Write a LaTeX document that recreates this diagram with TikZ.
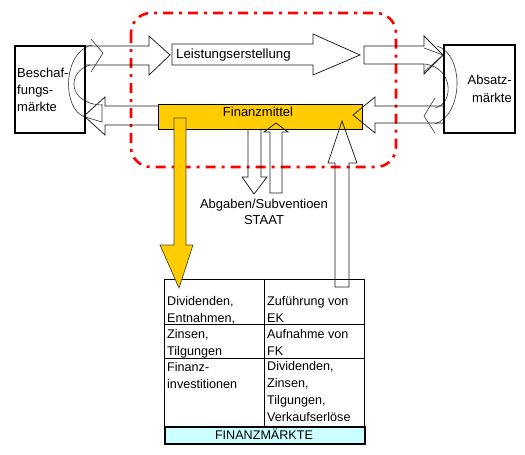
\documentclass[tikz,border=0pt]{standalone}
\usepackage{fontspec}
\setmainfont{Liberation Sans}
\definecolor{gold}{HTML}{FFCC00}
\definecolor{lcyan}{HTML}{CCFFFF}
\definecolor{redframe}{HTML}{FF0000}
\begin{document}
\begin{tikzpicture}[x=1pt,y=-1pt,
  outl/.style={draw=black!90, line width=0.75pt},
  curv/.style={draw=black!80, line width=0.6pt},
  mkt/.style={draw=black, line width=2pt, fill=none},
  txt/.style={font=\fontsize{13}{17}\selectfont, inner sep=0pt},
  ctxt/.style={font=\fontsize{12.6}{16.6}\selectfont, inner sep=0pt, align=left, anchor=north west},
  grid/.style={draw=black, line width=0.8pt}]
\useasboundingbox (0,0) rectangle (525,455);

% dash-dot frame
\draw[redframe, line width=2.6pt, dash pattern=on 10pt off 6pt on 3pt off 6pt,
      rounded corners=20pt] (131,13) rectangle (396,167);

% block arrows (outlined, unfilled)
\draw[outl] (84,46) -- (149,46) -- (149,36) -- (170,55) -- (149,75) -- (149,65) -- (84,65);
\draw[outl] (172,44) -- (313,44) -- (313,34) -- (360,55) -- (313,75) -- (313,65) -- (172,65) -- cycle;
\draw[outl] (364,46) -- (424,46) -- (424,36) -- (443,55) -- (424,74) -- (424,64) -- (364,64) -- cycle;
\draw[outl] (158,106) -- (105,106) -- (105,97) -- (84,116) -- (105,135) -- (105,125) -- (158,125);

% Finanzmittel box
\node[draw=black, line width=0.8pt, fill=gold, minimum width=204pt, minimum height=25pt,
      inner sep=0pt, anchor=north west] (fm) at (158,104) {};
\node[txt, anchor=base] (fmt) at (258,116.7) {Finanzmittel};

% arrows touching Finanzmittel
\draw[outl] (443,106) -- (375,106) -- (375,97) -- (353,115) -- (375,133) -- (375,123) -- (443,123);
\draw[outl] (248,129) -- (248,177) -- (242,177) -- (254,194) -- (267,177) -- (261,177) -- (261,129);
\draw[outl] (270,193) -- (270,132) -- (264,132) -- (276,123) -- (288,132) -- (282,132) -- (282,193) -- cycle;

% table
\draw[grid] (164,279) rectangle (364,426);
\draw[grid] (264,279) -- (264,426);
\draw[grid] (164,324) -- (364,324);
\draw[grid] (164,358) -- (364,358);
\node[draw=black, line width=1.8pt, fill=lcyan, minimum width=200pt, minimum height=17pt,
      inner sep=0pt, anchor=north west] (fmk) at (164,426) {};
\node[txt, font=\fontsize{12.6}{15}\selectfont, anchor=base] (fmkt) at (264,439.5) {FINANZMÄRKTE};

\draw[outl] (335,287) -- (335,163) -- (328,163) -- (342,121) -- (357,163) -- (349,163) -- (349,287) -- cycle;

% yellow arrow
\draw[draw=black!60!olive, line width=0.7pt, fill=gold]
  (174,118) -- (174,245) -- (160,245) -- (179,288) -- (193,245) -- (186,245) -- (186,118) -- cycle;

% cell texts
\node[ctxt] (c11) at (167,296.5) {Dividenden,\\Entnahmen,};
\node[ctxt] (c12) at (267,296.5) {Zuführung von\\EK};
\node[ctxt] (c21) at (167,329.5) {Zinsen,\\Tilgungen};
\node[ctxt] (c22) at (267,329.5) {Aufnahme von\\FK};
\node[ctxt] (c31) at (167,362.5) {Finanz-\\investitionen};
\node[ctxt, font=\fontsize{12.6}{17}\selectfont] (c32) at (267,361.5) {Dividenden,\\Zinsen,\\Tilgungen,\\Verkaufserlöse};

% STAAT text
\node[txt, align=center, anchor=north, font=\fontsize{13}{16}\selectfont] (staat) at (264,198.5) {Abgaben/Subventioen\\STAAT};

% Leistungserstellung text
\node[txt, font=\fontsize{13.3}{16}\selectfont, anchor=base west] (le) at (176,58.5) {Leistungserstellung};

% curved arrows (left)
\draw[curv] (91,39) -- (103,53) -- (91,72);
\draw[curv] (92,45) .. controls (62,52) and (62,110) .. (85,117);
\draw[curv] (90,65) .. controls (66,72) and (68,104) .. (102,105);
\draw[curv] (102,104) -- (102,122) -- (85,117);

% curved arrows (right)
\draw[curv] (435,98) -- (424,116) -- (435,133);
\draw[curv] (437,46) .. controls (464,54) and (464,114) .. (435,124);
\draw[curv] (425,64) .. controls (454,68) and (454,104) .. (435,108);
\draw[curv] (424,48) -- (443,55) -- (424,72);

% market boxes
\node[mkt, minimum width=70pt, minimum height=87pt, inner sep=0pt, anchor=north west] (besch) at (14,45) {};
\node[mkt, minimum width=71pt, minimum height=88pt, inner sep=0pt, anchor=north west] (abs) at (443,44) {};
\node[txt, align=left, anchor=north west] (bescht) at (17,67.5) {Beschaf-\\fungs-\\märkte};
\node[txt, align=right, anchor=north east, font=\fontsize{13}{18}\selectfont] (abst) at (512,74.5) {Absatz-\\märkte};
\end{tikzpicture}
\end{document}
